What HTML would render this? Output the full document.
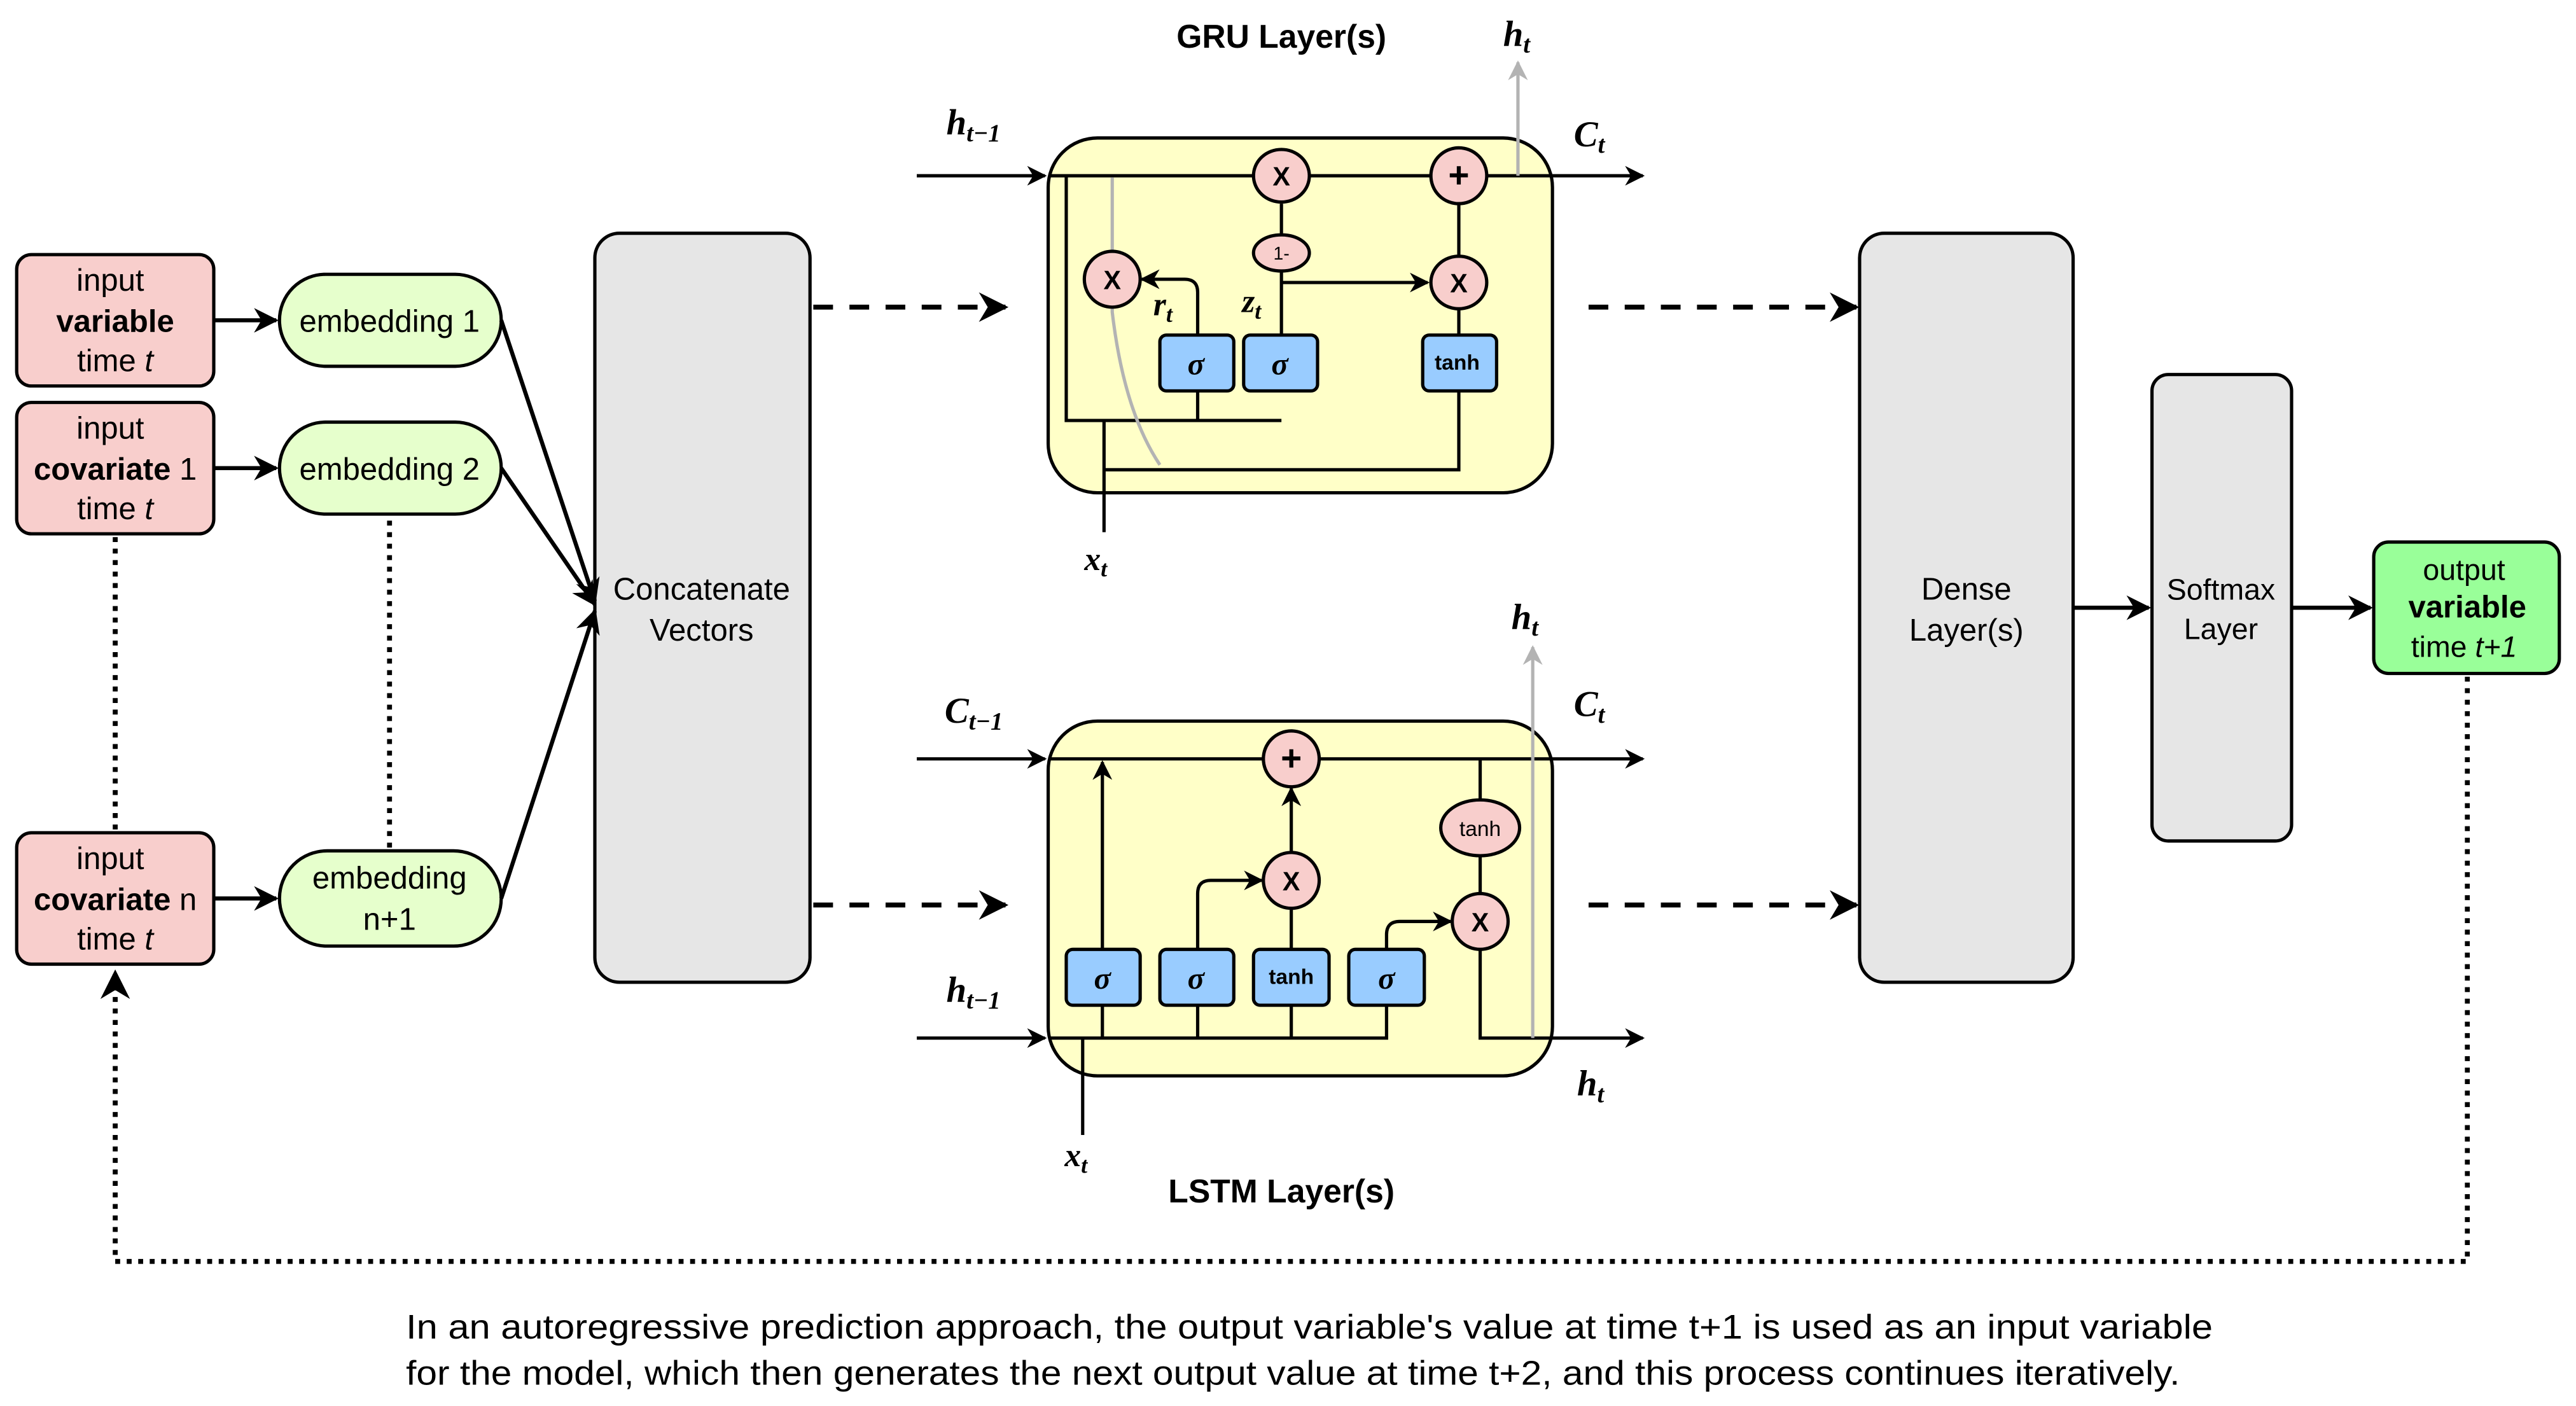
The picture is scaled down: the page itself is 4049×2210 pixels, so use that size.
<!DOCTYPE html>
<html><head><meta charset="utf-8"><style>
html,body{margin:0;padding:0;background:#fff}
svg{display:block}
text{font-family:"Liberation Sans",sans-serif}
.m text, text.m{font-family:"Liberation Serif",serif;font-style:italic;font-weight:bold}
</style></head><body>
<svg width="4049" height="2210" viewBox="0 0 1568 856" xmlns="http://www.w3.org/2000/svg">
<defs>
<marker id="a" viewBox="0 0 10 10" refX="9" refY="5" markerWidth="6" markerHeight="6" orient="auto"><path d="M0,0 L10,5 L0,10 L3,5 z" fill="#000"/></marker>
<marker id="g" viewBox="0 0 10 10" refX="9" refY="5" markerWidth="6" markerHeight="6" orient="auto"><path d="M0,0 L10,5 L0,10 L3,5 z" fill="#b3b3b3"/></marker>
</defs>
<g stroke="#000" stroke-width="2">
<rect x="10" y="155" width="120" height="80" rx="9" fill="#f8cecc"/>
<rect x="10" y="245" width="120" height="80" rx="9" fill="#f8cecc"/>
<rect x="10" y="507" width="120" height="80" rx="9" fill="#f8cecc"/>
<rect x="170" y="167" width="135" height="56" rx="28" fill="#e6ffcc"/>
<rect x="170" y="257" width="135" height="56" rx="28" fill="#e6ffcc"/>
<rect x="170" y="518" width="135" height="58" rx="29" fill="#e6ffcc"/>
<rect x="362" y="142" width="131" height="456" rx="15" fill="#e6e6e6"/>
<rect x="1132" y="142" width="130" height="456" rx="15" fill="#e6e6e6"/>
<rect x="1310" y="228" width="85" height="284" rx="10" fill="#e6e6e6"/>
<rect x="1445" y="330" width="113" height="80" rx="9" fill="#99ff99"/>
<rect x="638" y="84" width="307" height="216" rx="30" fill="#ffffc8"/>
<rect x="638" y="439" width="307" height="216" rx="30" fill="#ffffc8"/>
</g>
<g stroke="#000" stroke-width="2.5" fill="none">
<line x1="130" y1="195" x2="168" y2="195" marker-end="url(#a)"/>
<line x1="130" y1="285" x2="168" y2="285" marker-end="url(#a)"/>
<line x1="130" y1="547" x2="168" y2="547" marker-end="url(#a)"/>
<line x1="305" y1="195" x2="362" y2="366" marker-end="url(#a)"/>
<line x1="305" y1="285" x2="362" y2="368" marker-end="url(#a)"/>
<line x1="305" y1="547" x2="362" y2="372" marker-end="url(#a)"/>
<line x1="1262" y1="370" x2="1308" y2="370" marker-end="url(#a)"/>
<line x1="1395" y1="370" x2="1443" y2="370" marker-end="url(#a)"/>
<g stroke-dasharray="12,10" stroke-width="3">
<line x1="495" y1="187" x2="612" y2="187" marker-end="url(#a)"/>
<line x1="495" y1="551" x2="612" y2="551" marker-end="url(#a)"/>
<line x1="967" y1="187" x2="1130" y2="187" marker-end="url(#a)"/>
<line x1="967" y1="551" x2="1130" y2="551" marker-end="url(#a)"/>
</g>
<g stroke-dasharray="3,4" stroke-width="3">
<line x1="70" y1="327" x2="70" y2="505"/>
<line x1="237" y1="317" x2="237" y2="516"/>
<polyline points="1502,412 1502,768 70,768 70,592" marker-end="url(#a)"/>
</g>
</g>
<g stroke="#000" stroke-width="2" fill="none">
<line x1="558" y1="107" x2="636" y2="107" marker-end="url(#a)"/>
<line x1="638" y1="107" x2="1000" y2="107" marker-end="url(#a)"/>
<polyline points="649,107 649,256 780,256"/>
<line x1="729" y1="238" x2="729" y2="256"/>
<line x1="780" y1="124" x2="780" y2="204"/>
<line x1="888" y1="124" x2="888" y2="204"/>
<line x1="780" y1="172" x2="869" y2="172" marker-end="url(#a)"/>
<path d="M729,204 V178 Q729,170 721,170 H695" marker-end="url(#a)"/>
<polyline points="672,324 672,256"/>
<polyline points="672,286 888,286 888,238"/>
</g>
<line x1="924" y1="107" x2="924" y2="38" stroke="#b3b3b3" stroke-width="2" marker-end="url(#g)"/>
<path d="M677,108 V190 Q684,250 706,283" stroke="#b3b3b3" stroke-width="2" fill="none"/>
<g stroke="#000" stroke-width="2" fill="#f8cecc">
<ellipse cx="780" cy="107" rx="17" ry="16"/>
<ellipse cx="888" cy="107" rx="17" ry="17"/>
<ellipse cx="780" cy="154" rx="17" ry="11"/>
<ellipse cx="677" cy="170" rx="17" ry="17"/>
<ellipse cx="888" cy="172" rx="17" ry="16"/>
<g fill="#99ccff"><rect x="706" y="204" width="45" height="34" rx="4"/><rect x="757" y="204" width="45" height="34" rx="4"/><rect x="866" y="204" width="45" height="34" rx="4"/></g>
</g>
<g stroke="#000" stroke-width="2" fill="none">
<line x1="558" y1="462" x2="636" y2="462" marker-end="url(#a)"/>
<line x1="638" y1="462" x2="1000" y2="462" marker-end="url(#a)"/>
<line x1="558" y1="632" x2="636" y2="632" marker-end="url(#a)"/>
<polyline points="638,632 844,632 844,612"/>
<polyline points="901,462 901,632 1000,632" marker-end="url(#a)"/>
<line x1="671" y1="612" x2="671" y2="632"/><line x1="729" y1="612" x2="729" y2="632"/><line x1="786" y1="612" x2="786" y2="632"/>
<line x1="671" y1="578" x2="671" y2="464" marker-end="url(#a)"/>
<path d="M729,578 V544 Q729,536 737,536 H768" marker-end="url(#a)"/>
<line x1="786" y1="578" x2="786" y2="553"/>
<line x1="786" y1="519" x2="786" y2="480" marker-end="url(#a)"/>
<path d="M844,578 V569 Q844,561 852,561 H883" marker-end="url(#a)"/>
<line x1="659" y1="632" x2="659" y2="691"/>
</g>
<line x1="933" y1="632" x2="933" y2="394" stroke="#b3b3b3" stroke-width="2" marker-end="url(#g)"/>
<g stroke="#000" stroke-width="2" fill="#f8cecc">
<ellipse cx="786" cy="462" rx="17" ry="17"/>
<ellipse cx="901" cy="504" rx="24" ry="17"/>
<ellipse cx="786" cy="536" rx="17" ry="17"/>
<ellipse cx="901" cy="561" rx="17" ry="17"/>
<g fill="#99ccff"><rect x="649" y="578" width="45" height="34" rx="4"/><rect x="706" y="578" width="45" height="34" rx="4"/><rect x="763" y="578" width="46" height="34" rx="4"/><rect x="821" y="578" width="46" height="34" rx="4"/></g>
</g>
<g font-size="19" text-anchor="middle" fill="#000">
<text x="67" y="177">input</text><text x="70" y="202" font-weight="bold">variable</text><text x="70" y="226">time <tspan font-style="italic">t</tspan></text>
<text x="67" y="267">input</text><text x="70" y="292"><tspan font-weight="bold">covariate</tspan> 1</text><text x="70" y="316">time <tspan font-style="italic">t</tspan></text>
<text x="67" y="529">input</text><text x="70" y="554"><tspan font-weight="bold">covariate</tspan> n</text><text x="70" y="578">time <tspan font-style="italic">t</tspan></text>
<text x="237" y="202">embedding 1</text><text x="237" y="292">embedding 2</text>
<text x="237" y="541">embedding</text><text x="237" y="566">n+1</text>
<text x="427" y="365">Concatenate</text><text x="427" y="390">Vectors</text>
<text x="1197" y="365">Dense</text><text x="1197" y="390">Layer(s)</text>
<text x="1352" y="365" font-size="18">Softmax</text><text x="1352" y="389" font-size="18">Layer</text>
<text x="1500" y="353" font-size="18">output</text><text x="1502" y="376" font-weight="bold">variable</text><text x="1500" y="400" font-size="18">time <tspan font-style="italic">t+1</tspan></text>
<text x="780" y="29" font-weight="bold" font-size="20">GRU Layer(s)</text>
<text x="780" y="732" font-weight="bold" font-size="20">LSTM Layer(s)</text>
<text x="797" y="815" font-size="21" textLength="1100" lengthAdjust="spacingAndGlyphs">In an autoregressive prediction approach, the output variable's value at time t+1 is used as an input variable</text>
<text x="787" y="843" font-size="21" textLength="1080" lengthAdjust="spacingAndGlyphs">for the model, which then generates the next output value at time t+2, and this process continues iteratively.</text>
<g font-weight="bold" font-size="16"><text x="780" y="113">X</text><text x="888" y="114" font-size="22">+</text><text x="677" y="176">X</text><text x="888" y="178">X</text><text x="786" y="542">X</text><text x="901" y="567">X</text><text x="786" y="469" font-size="22">+</text></g>
<text x="780" y="158" font-size="11">1-</text>
<g font-size="13" font-weight="bold"><text x="887" y="225">tanh</text><text x="786" y="599">tanh</text></g>
<text x="901" y="509" font-size="13">tanh</text>
<g class="m" font-size="19"><text x="728" y="228">σ</text><text x="779" y="228">σ</text><text x="671" y="602">σ</text><text x="728" y="602">σ</text><text x="844" y="602">σ</text></g>
</g>
<g class="m" font-size="22" fill="#000">
<text x="576" y="82">h<tspan font-size="15" dy="4">t−1</tspan></text>
<text x="958" y="89">C<tspan font-size="15" dy="4">t</tspan></text>
<text x="915" y="28">h<tspan font-size="15" dy="4">t</tspan></text>
<text x="702" y="192" font-size="20">r<tspan font-size="14" dy="4">t</tspan></text>
<text x="756" y="190" font-size="20">z<tspan font-size="14" dy="4">t</tspan></text>
<text x="660" y="347" font-size="20">x<tspan font-size="14" dy="4">t</tspan></text>
<text x="575" y="440">C<tspan font-size="15" dy="4">t−1</tspan></text>
<text x="576" y="610">h<tspan font-size="15" dy="4">t−1</tspan></text>
<text x="958" y="436">C<tspan font-size="15" dy="4">t</tspan></text>
<text x="920" y="383">h<tspan font-size="15" dy="4">t</tspan></text>
<text x="960" y="667">h<tspan font-size="15" dy="4">t</tspan></text>
<text x="648" y="710" font-size="20">x<tspan font-size="14" dy="4">t</tspan></text>
</g>
</svg>
</body></html>
